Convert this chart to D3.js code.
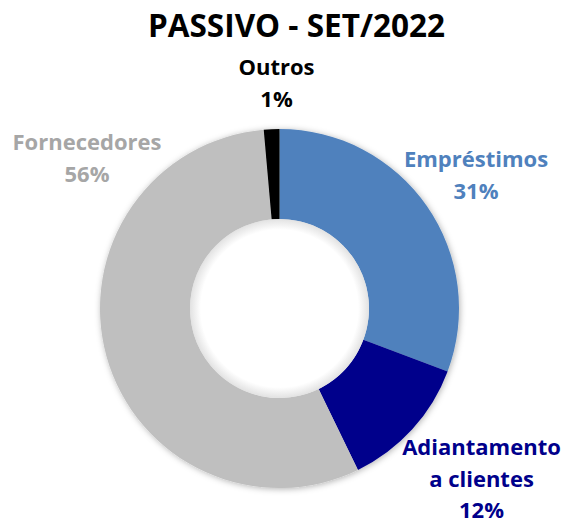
<!DOCTYPE html>
<html>
<head>
<meta charset="utf-8">
<script src="https://cdn.jsdelivr.net/npm/d3@7"></script>
<style>
  body { margin: 0; background: #fff; }
  text { font-family: 'Open Sans', Lato, sans-serif; font-weight: bold; }
</style>
</head>
<body>
<svg width="564" height="518"></svg>
<script>
// data
const categories = ['Empréstimos', 'Adiantamento a clientes', 'Fornecedores', 'Outros'];
const shares = [30.7, 12.1, 55.8, 1.4];
const sliceColors = ['#4F81BD', '#00008B', '#BFBFBF', '#000000'];
const labelColors = ['#4F81BD', '#00008B', '#A6A6A6', '#000000'];
const labelLines = [['Empréstimos'], ['Adiantamento', 'a clientes'], ['Fornecedores'], ['Outros']];

const svg = d3.select('svg');
const cx = 279.5, cy = 308.5;
const outerR = 179.5, innerR = 89.5;

const data = categories.map((c, i) => ({ name: c, value: shares[i], color: sliceColors[i], lab: labelColors[i], lines: labelLines[i] }));
const total = d3.sum(shares);

const defs = svg.append('defs');
const shadow = defs.append('filter').attr('id', 'shadow')
  .attr('x', '-20%').attr('y', '-20%').attr('width', '140%').attr('height', '140%');
shadow.append('feDropShadow')
  .attr('dx', 1).attr('dy', 1).attr('stdDeviation', 3)
  .attr('flood-color', '#000').attr('flood-opacity', 0.3);

const holeGrad = defs.append('radialGradient').attr('id', 'hole');
holeGrad.append('stop').attr('offset', '88%').attr('stop-color', '#fff');
holeGrad.append('stop').attr('offset', '100%').attr('stop-color', '#e2e2e2');

// title
svg.append('text')
  .attr('x', 296.5).attr('y', 37)
  .attr('text-anchor', 'middle')
  .style('font-size', '31.5px')
  .text('PASSIVO - SET/2022');

const pie = d3.pie().sort(null).value((d) => d.value);
const arc = d3.arc().innerRadius(innerR).outerRadius(outerR);

const g = svg.append('g').attr('transform', `translate(${cx},${cy})`);

g.append('g')
  .attr('filter', 'url(#shadow)')
  .selectAll('path')
  .data(pie(data))
  .join('path')
  .attr('d', arc)
  .attr('fill', (d) => d.data.color);

g.append('circle').attr('r', innerR).attr('fill', 'url(#hole)');

// label anchor points (first baseline), relative to center
const labelPos = [
  { x: 196.5, y: -141.5 },
  { x: 202, y: 146.5 },
  { x: -192.5, y: -158.5 },
  { x: -3, y: -233.5 }
];
const pct = d3.format('.0%');

const labels = g.selectAll('.label')
  .data(pie(data))
  .join('text')
  .attr('class', 'label')
  .attr('text-anchor', 'middle')
  .style('font-size', '22px')
  .attr('fill', (d) => d.data.lab);

labels.each(function (d, i) {
  const t = d3.select(this);
  const lines = d.data.lines.concat([pct(d.data.value / total)]);
  lines.forEach((l, k) => {
    t.append('tspan')
      .attr('x', labelPos[i].x)
      .attr('y', labelPos[i].y + k * 31.5)
      .text(l);
  });
});
</script>
</body>
</html>
